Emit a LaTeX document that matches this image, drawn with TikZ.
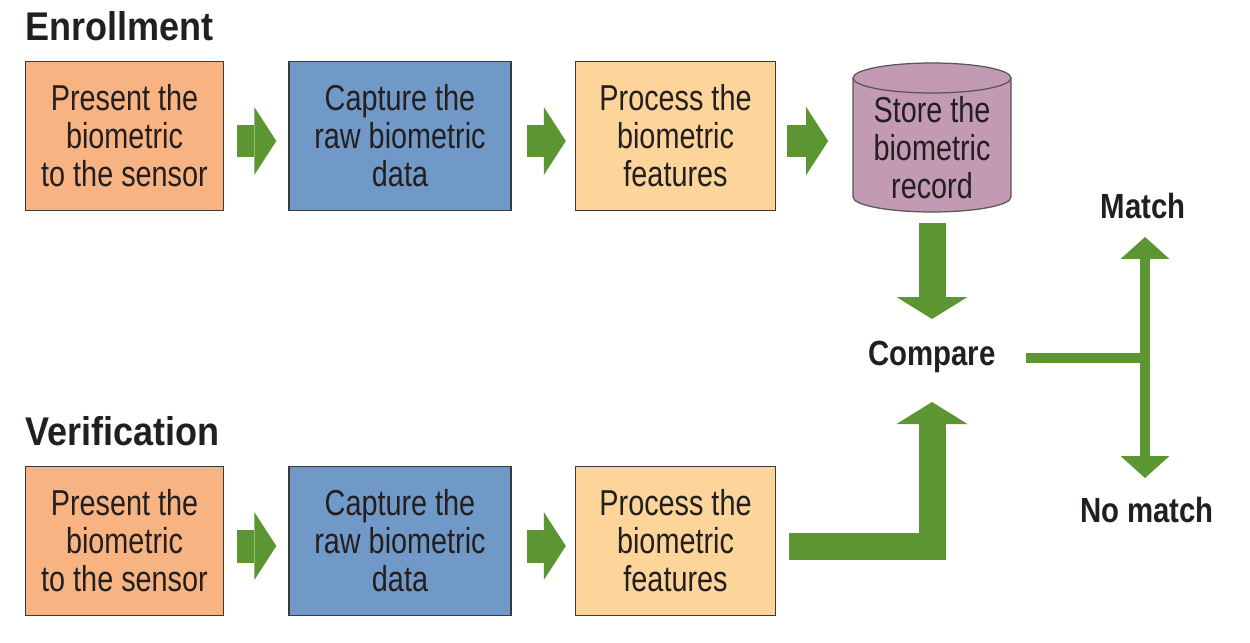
\documentclass[tikz,border=0pt]{standalone}
\usepackage{fontspec}
\usetikzlibrary{arrows.meta,calc}
\newfontfamily\boxfont{Liberation Sans}[FakeStretch=0.8]
\newfontfamily\titlefont{Liberation Sans Bold}[FakeStretch=0.9]
\newfontfamily\lblfont{Liberation Sans Bold}[FakeStretch=0.84]
\definecolor{txt}{HTML}{231F20}
\definecolor{boxline}{HTML}{3A3A3A}
\definecolor{orangebox}{HTML}{F8B383}
\definecolor{bluebox}{HTML}{7199C7}
\definecolor{yellowbox}{HTML}{FDD49A}
\definecolor{cylfill}{HTML}{C29AB3}
\definecolor{cylline}{HTML}{555555}
\definecolor{arrowgreen}{HTML}{5C9632}
\begin{document}
\begin{tikzpicture}[x=0.02cm,y=0.02cm,
  stepbox/.style={draw=boxline, line width=0.8pt, minimum height=2.98cm, inner sep=0pt,
    align=center, text=txt, font=\boxfont\fontsize{20.5}{21.6}\selectfont},
  presentbox/.style={stepbox, fill=orangebox, minimum width=3.96cm},
  capturebox/.style={stepbox, fill=bluebox, minimum width=4.44cm},
  processbox/.style={stepbox, fill=yellowbox, minimum width=4.0cm},
  titletext/.style={anchor=base west, inner sep=0pt, text=txt,
    font=\titlefont\fontsize{22.8}{24}\selectfont},
  lbl/.style={inner sep=0pt, text=txt, font=\lblfont\fontsize{19.9}{22}\selectfont},
  smallarrow/.style={draw=arrowgreen, line width=0.66cm,
    -{Triangle[length=0.44cm, width=1.36cm, line width=0pt]}},
  bigarrow/.style={draw=arrowgreen, line width=0.54cm, line join=miter,
    -{Triangle[length=0.44cm, width=1.42cm, line width=0pt]}},
  thinline/.style={draw=arrowgreen, line width=0.2cm},
  thinarrows/.style={draw=arrowgreen, line width=0.2cm,
    {Triangle[length=0.44cm, width=0.98cm, line width=0pt]}-{Triangle[length=0.44cm, width=0.98cm, line width=0pt]}}
]
\useasboundingbox (0,0) rectangle (1250,-642);

% titles
\node[titletext] (tenr) at (25,-41) {Enrollment};
\node[titletext] (tver) at (25,-445) {Verification};

% enrollment row
\node[presentbox] (e1) at (124.5,-136) {Present the\\biometric\\to the sensor};
\node[capturebox] (e2) at (400,-136) {Capture the\\raw biometric\\data};
\node[processbox] (e3) at (675.5,-136) {Process the\\biometric\\features};

% cylinder
\fill[cylfill] (853,-78) -- (853,-197) arc[start angle=180, end angle=360, x radius=1.58cm, y radius=0.3cm]
  -- (1011,-78) arc[start angle=0, end angle=180, x radius=1.58cm, y radius=0.3cm] -- cycle;
\draw[cylline, line width=0.7pt] (853,-78) -- (853,-197) arc[start angle=180, end angle=360, x radius=1.58cm, y radius=0.3cm]
  -- (1011,-78);
\draw[cylline, line width=0.7pt] (932,-78) ellipse[x radius=1.58cm, y radius=0.3cm];
\node[minimum width=3.16cm, minimum height=2.98cm, inner sep=0pt, align=center, text=txt,
  font=\boxfont\fontsize{20.5}{21.6}\selectfont] (cyl) at (932,-148) {Store the\\biometric\\record};

% verification row
\node[presentbox] (v1) at (124.5,-541) {Present the\\biometric\\to the sensor};
\node[capturebox] (v2) at (400,-541) {Capture the\\raw biometric\\data};
\node[processbox] (v3) at (675.5,-541) {Process the\\biometric\\features};

% labels
\node[lbl] (cmp) at (932,-357) {Compare};
\node[lbl] (mt) at (1143,-206) {Match};
\node[lbl] (nm) at (1147,-510) {No match};

% enrollment arrows
\draw[smallarrow] ($(e1.east)+(13,-5)$) -- ($(e2.west)+(-12,-5)$);
\draw[smallarrow] ($(e2.east)+(15,-5)$) -- ($(e3.west)+(-9,-5)$);
\draw[smallarrow] ($(e3.east)+(11,-5)$) -- ($(e3.east)+(52,-5)$);

% verification arrows
\draw[smallarrow] ($(v1.east)+(13,-5)$) -- ($(v2.west)+(-12,-5)$);
\draw[smallarrow] ($(v2.east)+(15,-5)$) -- ($(v3.west)+(-9,-5)$);

% to compare
\draw[bigarrow] ($(cyl.south)+(0,-0.5)$) -- ($(cmp.center)+(0,38)$);
\draw[bigarrow] ($(v3.east)+(13,-5.5)$) -| ($(cmp.center)+(0,-45)$);

% decision
\coordinate (j) at (1145,-358);
\coordinate (mtip) at (1145,-237);
\coordinate (ntip) at (1145,-478);
\draw[thinline] ($(cmp.center)+(94,-1)$) -- ($(j)+(5,0)$);
\draw[thinarrows] (mtip) -- (ntip);
\end{tikzpicture}
\end{document}
